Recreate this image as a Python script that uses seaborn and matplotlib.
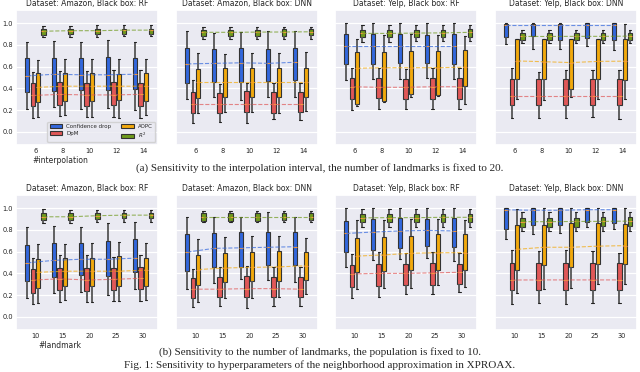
import numpy as np
import pandas as pd
import seaborn as sns
import matplotlib.pyplot as plt

# --- categories / labels ---
metrics = ['Confidence drop', 'DpM', 'AOPC', '$R^2$']
colors = ['#3267dd', '#e05858', '#f2a90c', '#6f9a1c']
interp_steps = ['6', '8', '10', '12', '14']
landmark_steps = ['10', '15', '20', '25', '30']
titles = ['Dataset: Amazon, Black box: RF', 'Dataset: Amazon, Black box: DNN',
          'Dataset: Yelp, Black box: RF', 'Dataset: Yelp, Black box: DNN']

# each box: [low whisker, q1, median, q3, high whisker], one row per step
# (a) interpolation interval
amz_rf_int_cd = [[0.215, 0.37, 0.515, 0.677, 0.83], [0.225, 0.378, 0.53, 0.683, 0.837],
                 [0.215, 0.385, 0.525, 0.677, 0.83], [0.22, 0.385, 0.525, 0.69, 0.846],
                 [0.20, 0.39, 0.53, 0.677, 0.825]]
amz_rf_int_dpm = [[0.13, 0.237, 0.335, 0.446, 0.55], [0.145, 0.246, 0.345, 0.455, 0.563],
                  [0.14, 0.24, 0.34, 0.45, 0.56], [0.14, 0.245, 0.34, 0.46, 0.57],
                  [0.13, 0.237, 0.345, 0.45, 0.57]]
amz_rf_int_aopc = [[0.14, 0.277, 0.41, 0.54, 0.66], [0.154, 0.286, 0.42, 0.545, 0.668],
                   [0.14, 0.28, 0.42, 0.54, 0.67], [0.13, 0.29, 0.42, 0.53, 0.668],
                   [0.154, 0.286, 0.42, 0.54, 0.668]]
amz_rf_int_r2 = [[0.87, 0.89, 0.925, 0.945, 0.975], [0.875, 0.895, 0.93, 0.945, 0.975],
                 [0.875, 0.895, 0.93, 0.948, 0.978], [0.88, 0.9, 0.935, 0.95, 0.978],
                 [0.88, 0.9, 0.935, 0.95, 0.978]]

amz_dnn_int_cd = [[0.30, 0.452, 0.625, 0.77, 0.923], [0.323, 0.46, 0.63, 0.76, 0.908],
                  [0.29, 0.46, 0.635, 0.77, 0.92], [0.317, 0.468, 0.63, 0.763, 0.923],
                  [0.323, 0.477, 0.64, 0.775, 0.923]]
amz_dnn_int_dpm = [[0.086, 0.178, 0.255, 0.363, 0.477], [0.092, 0.175, 0.255, 0.354, 0.44],
                   [0.083, 0.185, 0.255, 0.375, 0.452], [0.123, 0.175, 0.255, 0.363, 0.446],
                   [0.108, 0.185, 0.255, 0.363, 0.452]]
amz_dnn_int_aopc = [[0.17, 0.308, 0.46, 0.575, 0.723], [0.185, 0.317, 0.46, 0.585, 0.717],
                    [0.185, 0.323, 0.46, 0.588, 0.723], [0.17, 0.323, 0.46, 0.585, 0.723],
                    [0.194, 0.323, 0.46, 0.585, 0.73]]
amz_dnn_int_r2 = [[0.852, 0.883, 0.915, 0.94, 0.963], [0.855, 0.885, 0.915, 0.94, 0.963],
                  [0.855, 0.885, 0.917, 0.94, 0.965], [0.855, 0.885, 0.918, 0.942, 0.965],
                  [0.857, 0.887, 0.92, 0.942, 0.965]]

yelp_rf_int_cd = [[0.477, 0.62, 0.79, 0.898, 1.0], [0.486, 0.625, 0.79, 0.898, 1.0],
                  [0.49, 0.63, 0.79, 0.90, 1.0], [0.50, 0.63, 0.79, 0.89, 1.0],
                  [0.49, 0.625, 0.79, 0.898, 1.0]]
yelp_rf_int_dpm = [[0.20, 0.298, 0.415, 0.492, 0.585], [0.215, 0.308, 0.41, 0.492, 0.59],
                   [0.21, 0.30, 0.41, 0.486, 0.578], [0.215, 0.30, 0.415, 0.492, 0.59],
                   [0.215, 0.30, 0.415, 0.492, 0.585]]
yelp_rf_int_aopc = [[0.24, 0.255, 0.585, 0.738, 0.85], [0.277, 0.283, 0.59, 0.738, 0.886],
                    [0.323, 0.345, 0.59, 0.745, 0.90], [0.33, 0.338, 0.59, 0.745, 0.89],
                    [0.255, 0.42, 0.595, 0.754, 0.877]]
yelp_rf_int_r2 = [[0.83, 0.87, 0.905, 0.938, 0.98], [0.83, 0.87, 0.905, 0.938, 0.98],
                  [0.835, 0.872, 0.908, 0.94, 0.98], [0.835, 0.875, 0.91, 0.94, 0.98],
                  [0.835, 0.875, 0.915, 0.942, 0.98]]

yelp_dnn_int_cd = [[0.81, 0.87, 0.978, 0.994, 1.0], [0.763, 0.883, 0.978, 0.994, 1.0],
                   [0.763, 0.84, 0.978, 0.994, 1.0], [0.79, 0.86, 0.978, 1.0, 1.0],
                   [0.754, 0.84, 0.978, 1.0, 1.0]]
yelp_dnn_int_dpm = [[0.132, 0.252, 0.33, 0.49, 0.585], [0.132, 0.252, 0.33, 0.49, 0.554],
                    [0.132, 0.246, 0.33, 0.49, 0.57], [0.138, 0.252, 0.33, 0.49, 0.57],
                    [0.123, 0.252, 0.33, 0.49, 0.57]]
yelp_dnn_int_aopc = [[0.30, 0.486, 0.652, 0.852, 0.852], [0.292, 0.483, 0.645, 0.852, 0.852],
                     [0.317, 0.39, 0.637, 0.852, 0.852], [0.30, 0.483, 0.648, 0.852, 0.852],
                     [0.30, 0.477, 0.65, 0.852, 0.994]]
yelp_dnn_int_r2 = [[0.82, 0.84, 0.877, 0.908, 0.94], [0.82, 0.84, 0.877, 0.908, 0.94],
                   [0.82, 0.842, 0.878, 0.908, 0.94], [0.82, 0.842, 0.878, 0.908, 0.94],
                   [0.82, 0.845, 0.88, 0.91, 0.94]]

# (b) number of landmarks
amz_rf_lm_cd = [[0.177, 0.332, 0.497, 0.665, 0.83], [0.217, 0.37, 0.52, 0.683, 0.835],
                [0.233, 0.385, 0.53, 0.683, 0.83], [0.20, 0.38, 0.53, 0.70, 0.86],
                [0.255, 0.41, 0.54, 0.714, 0.876]]
amz_rf_lm_dpm = [[0.121, 0.224, 0.339, 0.441, 0.543], [0.137, 0.245, 0.35, 0.45, 0.565],
                 [0.137, 0.239, 0.34, 0.45, 0.565], [0.146, 0.245, 0.345, 0.45, 0.55],
                 [0.146, 0.255, 0.355, 0.463, 0.565]]
amz_rf_lm_aopc = [[0.13, 0.27, 0.41, 0.534, 0.668], [0.155, 0.28, 0.42, 0.54, 0.668],
                  [0.14, 0.28, 0.42, 0.54, 0.68], [0.146, 0.286, 0.42, 0.556, 0.69],
                  [0.16, 0.286, 0.43, 0.543, 0.68]]
amz_rf_lm_r2 = [[0.86, 0.891, 0.92, 0.953, 0.99], [0.86, 0.891, 0.92, 0.953, 0.985],
                [0.87, 0.9, 0.93, 0.955, 0.985], [0.875, 0.905, 0.935, 0.955, 0.985],
                [0.875, 0.905, 0.935, 0.955, 0.985]]

amz_dnn_lm_cd = [[0.255, 0.419, 0.596, 0.758, 0.922], [0.31, 0.457, 0.63, 0.767, 0.922],
                 [0.348, 0.463, 0.635, 0.776, 0.922], [0.339, 0.478, 0.64, 0.783, 0.96],
                 [0.317, 0.478, 0.645, 0.776, 0.922]]
amz_dnn_lm_dpm = [[0.09, 0.177, 0.255, 0.357, 0.441], [0.10, 0.183, 0.255, 0.363, 0.457],
                  [0.084, 0.183, 0.26, 0.373, 0.472], [0.10, 0.183, 0.26, 0.37, 0.457],
                  [0.10, 0.183, 0.255, 0.363, 0.457]]
amz_dnn_lm_aopc = [[0.137, 0.295, 0.435, 0.565, 0.714], [0.177, 0.317, 0.45, 0.59, 0.736],
                   [0.177, 0.332, 0.455, 0.596, 0.742], [0.183, 0.332, 0.46, 0.606, 0.742],
                   [0.208, 0.339, 0.47, 0.60, 0.727]]
amz_dnn_lm_r2 = [[0.87, 0.885, 0.92, 0.953, 0.969], [0.87, 0.885, 0.92, 0.953, 0.969],
                 [0.87, 0.885, 0.92, 0.953, 0.969], [0.87, 0.887, 0.92, 0.953, 0.97],
                 [0.87, 0.887, 0.92, 0.953, 0.97]]

yelp_rf_lm_cd = [[0.457, 0.596, 0.767, 0.882, 1.0], [0.525, 0.618, 0.78, 0.898, 1.0],
                 [0.534, 0.634, 0.79, 0.907, 1.0], [0.54, 0.649, 0.795, 0.898, 1.0],
                 [0.51, 0.643, 0.79, 0.907, 1.0]]
yelp_rf_lm_dpm = [[0.177, 0.276, 0.395, 0.478, 0.58], [0.186, 0.286, 0.40, 0.488, 0.596],
                  [0.208, 0.292, 0.40, 0.488, 0.587], [0.208, 0.295, 0.405, 0.494, 0.596],
                  [0.23, 0.307, 0.41, 0.488, 0.587]]
yelp_rf_lm_aopc = [[0.255, 0.41, 0.559, 0.727, 0.89], [0.27, 0.425, 0.57, 0.736, 0.89],
                   [0.27, 0.435, 0.585, 0.745, 0.897], [0.292, 0.435, 0.59, 0.758, 0.897],
                   [0.276, 0.435, 0.59, 0.758, 0.89]]
yelp_rf_lm_r2 = [[0.823, 0.87, 0.91, 0.944, 0.99], [0.825, 0.872, 0.912, 0.944, 0.99],
                 [0.825, 0.872, 0.912, 0.944, 0.99], [0.83, 0.875, 0.915, 0.946, 0.99],
                 [0.83, 0.875, 0.915, 0.946, 0.99]]

yelp_dnn_lm_cd = [[0.714, 0.804, 0.984, 1.0, 1.0], [0.758, 0.845, 0.98, 1.0, 1.0],
                  [0.773, 0.845, 0.98, 1.0, 1.0], [0.823, 0.876, 0.985, 1.0, 1.0],
                  [0.804, 0.866, 0.985, 1.0, 1.0]]
yelp_dnn_lm_dpm = [[0.121, 0.245, 0.339, 0.494, 0.612], [0.124, 0.245, 0.34, 0.494, 0.602],
                   [0.121, 0.245, 0.34, 0.494, 0.612], [0.124, 0.245, 0.34, 0.494, 0.602],
                   [0.13, 0.245, 0.34, 0.494, 0.587]]
yelp_dnn_lm_aopc = [[0.224, 0.432, 0.621, 0.845, 0.99], [0.255, 0.481, 0.64, 0.845, 1.0],
                    [0.27, 0.457, 0.64, 0.86, 1.0], [0.307, 0.488, 0.65, 0.86, 1.0],
                    [0.30, 0.488, 0.655, 0.85, 1.0]]
yelp_dnn_lm_r2 = [[0.789, 0.829, 0.875, 0.913, 0.963], [0.79, 0.83, 0.875, 0.913, 0.963],
                  [0.79, 0.83, 0.877, 0.913, 0.963], [0.79, 0.832, 0.878, 0.915, 0.963],
                  [0.79, 0.832, 0.88, 0.915, 0.963]]

rows_of_panels = [
    (interp_steps, '#interpolation',
     [[amz_rf_int_cd, amz_rf_int_dpm, amz_rf_int_aopc, amz_rf_int_r2],
      [amz_dnn_int_cd, amz_dnn_int_dpm, amz_dnn_int_aopc, amz_dnn_int_r2],
      [yelp_rf_int_cd, yelp_rf_int_dpm, yelp_rf_int_aopc, yelp_rf_int_r2],
      [yelp_dnn_int_cd, yelp_dnn_int_dpm, yelp_dnn_int_aopc, yelp_dnn_int_r2]]),
    (landmark_steps, '#landmark',
     [[amz_rf_lm_cd, amz_rf_lm_dpm, amz_rf_lm_aopc, amz_rf_lm_r2],
      [amz_dnn_lm_cd, amz_dnn_lm_dpm, amz_dnn_lm_aopc, amz_dnn_lm_r2],
      [yelp_rf_lm_cd, yelp_rf_lm_dpm, yelp_rf_lm_aopc, yelp_rf_lm_r2],
      [yelp_dnn_lm_cd, yelp_dnn_lm_dpm, yelp_dnn_lm_aopc, yelp_dnn_lm_r2]]),
]

sns.set_theme(style='darkgrid', rc={'grid.linewidth': 0.9,
                                    'xtick.major.size': 0, 'ytick.major.size': 0})
plt.rcParams['font.family'] = ['DejaVu Sans']


def draw_panel(ax, steps, series, show_legend):
    rows = []
    for name, boxes in zip(metrics, series):
        for step, stats in zip(steps, boxes):
            for v in stats:
                rows.append({'step': step, 'metric': name, 'value': v})
    df = pd.DataFrame(rows)
    sns.boxplot(data=df, x='step', y='value', hue='metric', order=steps, hue_order=metrics,
                palette=colors, whis=(0, 100), width=0.8, gap=0.2, linecolor='#333333',
                linewidth=0.8, showfliers=False, saturation=1, legend=show_legend, ax=ax,
                medianprops=dict(color='#f59a40', linewidth=0.8),
                whiskerprops=dict(color='#555555', linewidth=1.3),
                capprops=dict(color='#222222', linewidth=0.8))
    # dashed lines through the medians of each metric
    offsets = np.linspace(-0.3, 0.3, len(metrics))
    for k, (boxes, c) in enumerate(zip(series, colors)):
        meds = [b[2] for b in boxes]
        ax.plot(np.arange(len(steps)) + offsets[k], meds, ls='--', color=c,
                lw=0.8, alpha=0.7, zorder=5)


fig = plt.figure(figsize=(6.4, 3.72), dpi=100)
W, H = 640, 372
lefts = [16, 176, 335, 495]
panel_w = 142
row_top = [10, 195]
panel_h = 135

for r, (steps, xlabel, panels) in enumerate(rows_of_panels):
    for c, series in enumerate(panels):
        ax = fig.add_axes([lefts[c] / W, 1 - (row_top[r] + panel_h) / H, panel_w / W, panel_h / H])
        draw_panel(ax, steps, series, show_legend=(r == 0 and c == 0))
        ax.set_ylim(-0.12, 1.12)
        ax.set_xlim(-0.72, 4.55)
        ax.set_yticks(np.arange(0, 1.01, 0.2))
        ax.set_title(titles[c], fontsize=5.5, pad=3)
        ax.tick_params(length=0, labelsize=4.8, pad=2)
        ax.set_ylabel('')
        if c == 0:
            ax.set_yticklabels([f'{v:.1f}' for v in np.arange(0, 1.01, 0.2)])
            ax.set_xlabel(xlabel, fontsize=5.5)
            ax.xaxis.set_label_coords(0.31, -0.085)
            ax.xaxis.label.set_va('top')
        else:
            ax.set_yticklabels([])
            ax.set_xlabel('')
        if r == 0 and c == 0:
            handles, labels = ax.get_legend_handles_labels()
            ax.legend(handles, labels, ncol=2, loc='lower right', fontsize=4,
                      handlelength=2.2, handleheight=0.9, columnspacing=1.8,
                      borderpad=0.4, labelspacing=0.3, framealpha=0.8)

fig.text(0.5, 1 - 168 / H, '(a) Sensitivity to the interpolation interval, the number of landmarks is fixed to 20.',
         ha='center', va='center', fontsize=8, family='Liberation Serif')
fig.text(0.5, 1 - 352 / H, '(b) Sensitivity to the number of landmarks, the population is fixed to 10.',
         ha='center', va='center', fontsize=8, family='Liberation Serif')
fig.text(0.5, 1 - 365 / H, 'Fig. 1: Sensitivity to hyperparameters of the neighborhood approximation in XPROAX.',
         ha='center', va='center', fontsize=8, family='Liberation Serif')

fig.savefig('out.png', dpi=100)
